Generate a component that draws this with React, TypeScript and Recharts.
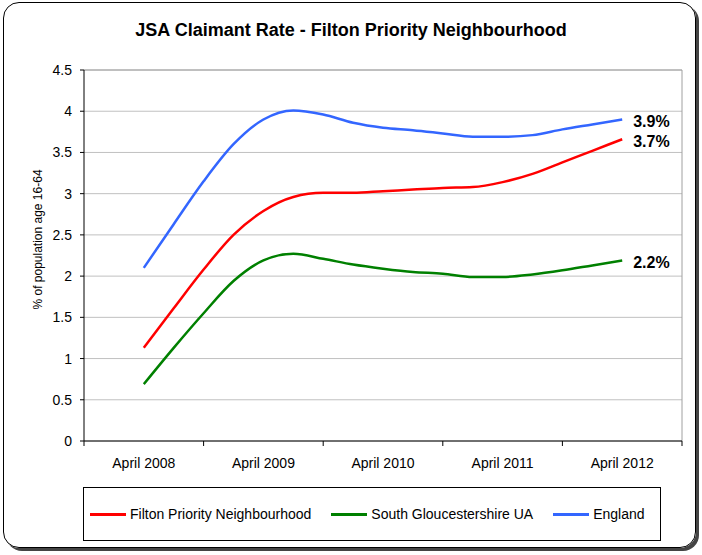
import { LineChart, Line, XAxis, YAxis, CartesianGrid, Legend, ReferenceLine } from "recharts";

// quarterly readings, April 2008 - April 2012
const quarters = [
  "Apr 2008", "Jul 2008", "Oct 2008", "Jan 2009",
  "Apr 2009", "Jul 2009", "Oct 2009", "Jan 2010",
  "Apr 2010", "Jul 2010", "Oct 2010", "Jan 2011",
  "Apr 2011", "Jul 2011", "Oct 2011", "Jan 2012",
  "Apr 2012",
];

const filton = [1.13, 1.61, 2.08, 2.5, 2.79, 2.96, 3.01, 3.01, 3.03, 3.05, 3.07, 3.08, 3.14, 3.24, 3.38, 3.52, 3.66];
const southGlos = [0.69, 1.13, 1.55, 1.94, 2.19, 2.27, 2.21, 2.14, 2.09, 2.05, 2.03, 1.99, 1.99, 2.02, 2.07, 2.13, 2.19];
const england = [2.1, 2.63, 3.15, 3.6, 3.9, 4.01, 3.96, 3.86, 3.8, 3.77, 3.73, 3.69, 3.69, 3.71, 3.78, 3.84, 3.9];

const seriesNames = ["Filton Priority Neighbourhood", "South Gloucestershire UA", "England"];
const yTicks = [0, 0.5, 1, 1.5, 2, 2.5, 3, 3.5, 4, 4.5];
const xLabels = ["April 2008", "April 2009", "April 2010", "April 2011", "April 2012"];

const data = quarters.map((q, i) => ({
  i,
  period: q,
  filton: filton[i],
  southGlos: southGlos[i],
  england: england[i],
}));

const FONT = "'Liberation Sans', Arial, sans-serif";

// labels sit on each April, tick marks halfway between them
const labelTicks = xLabels.map((_, k) => k * 4);
const boundaryTicks = [-2, ...labelTicks.map((t) => t + 2)];
const xTicks = [...boundaryTicks, ...labelTicks].sort((a, b) => a - b);

const XTick = (props: any) => {
  const { x, y, payload } = props;
  const v = payload.value;
  if (v % 4 === 0) {
    return (
      <text x={x} y={y + 27} textAnchor="middle" fontSize={14} fill="#000" fontFamily={FONT}>
        {xLabels[v / 4]}
      </text>
    );
  }
  return <line x1={x} x2={x} y1={y} y2={y + 5} stroke="#000" />;
};

const endLabel = (last: number) => (props: any) => {
  const { x, y, index, value } = props;
  if (index !== last) return <g />;
  return (
    <text x={x + 11} y={y + 8} fontSize={16} fontWeight="bold" fill="#000" fontFamily={FONT}>
      {Number(value).toFixed(1)}%
    </text>
  );
};

const LegendBox = (props: any) => {
  const items = [...(props.payload || [])].sort(
    (a: any, b: any) => seriesNames.indexOf(a.value) - seriesNames.indexOf(b.value)
  );
  return (
    <div
      style={{
        boxSizing: "border-box",
        width: "100%",
        height: "100%",
        border: "1px solid #000",
        display: "flex",
        alignItems: "center",
        paddingLeft: 6,
        fontSize: 14,
        fontFamily: FONT,
        whiteSpace: "nowrap",
      }}
    >
      {items.map((p: any) => (
        <div key={p.value} style={{ display: "flex", alignItems: "center", marginRight: 20, flexShrink: 0 }}>
          <span style={{ display: "inline-block", width: 36, height: 3, background: p.color, marginRight: 4 }} />
          <span>{p.value}</span>
        </div>
      ))}
    </div>
  );
};

const App = () => {
  const last = quarters.length - 1;
  return (
    <div style={{ position: "absolute", left: 0, top: 0, width: 702, height: 555, background: "#fff", fontFamily: FONT }}>
      <div
        style={{
          position: "absolute",
          left: 3,
          top: 2,
          width: 693,
          height: 546,
          boxSizing: "border-box",
          border: "1px solid #000",
          borderRadius: 16,
          boxShadow: "3px 3px 0 #444",
        }}
      />
      <div
        style={{
          position: "absolute",
          top: 20,
          left: 0,
          width: 702,
          textAlign: "center",
          fontSize: 18,
          fontWeight: "bold",
          lineHeight: "20px",
        }}
      >
        JSA Claimant Rate - Filton Priority Neighbourhood
      </div>
      <LineChart width={702} height={555} data={data} margin={{ top: 70, right: 20, left: 0, bottom: 84 }}>
        <CartesianGrid horizontal vertical={false} stroke="#c0c0c0" />
        <ReferenceLine y={4.5} stroke="#a0a0a0" />
        <ReferenceLine x={18} stroke="#a0a0a0" />
        <XAxis
          type="number"
          dataKey="i"
          domain={[-2, 18]}
          ticks={xTicks}
          interval={0}
          tickSize={0}
          tickMargin={0}
          tick={<XTick />}
          axisLine={{ stroke: "#000" }}
          height={30}
        />
        <YAxis
          domain={[0, 4.5]}
          ticks={yTicks}
          width={84}
          tickSize={4}
          tickMargin={8}
          tick={{ fontSize: 14, fill: "#000" }}
          axisLine={{ stroke: "#000" }}
          tickLine={{ stroke: "#000" }}
          label={(p: any) => {
            const vb = p.viewBox;
            const cx = vb.x + 38;
            const cy = vb.y + vb.height / 2 - 16;
            return (
              <text x={cx} y={cy} transform={`rotate(-90, ${cx}, ${cy})`} textAnchor="middle" dominantBaseline="central" fontSize={12} fill="#000">
                % of population age 16-64
              </text>
            );
          }}
        />
        <Legend
          layout="horizontal"
          verticalAlign="middle"
          align="center"
          itemSorter={null}
          content={<LegendBox />}
          wrapperStyle={{ left: 83, top: 487, width: 578, height: 54 }}
        />
        <Line
          type="monotone"
          dataKey="filton"
          name={seriesNames[0]}
          stroke="#ff0000"
          strokeWidth={2.5}
          dot={false}
          isAnimationActive={false}
          label={endLabel(last)}
        />
        <Line
          type="monotone"
          dataKey="southGlos"
          name={seriesNames[1]}
          stroke="#008000"
          strokeWidth={2.5}
          dot={false}
          isAnimationActive={false}
          label={endLabel(last)}
        />
        <Line
          type="monotone"
          dataKey="england"
          name={seriesNames[2]}
          stroke="#3366ff"
          strokeWidth={2.5}
          dot={false}
          isAnimationActive={false}
          label={endLabel(last)}
        />
      </LineChart>
    </div>
  );
};

export default App;
